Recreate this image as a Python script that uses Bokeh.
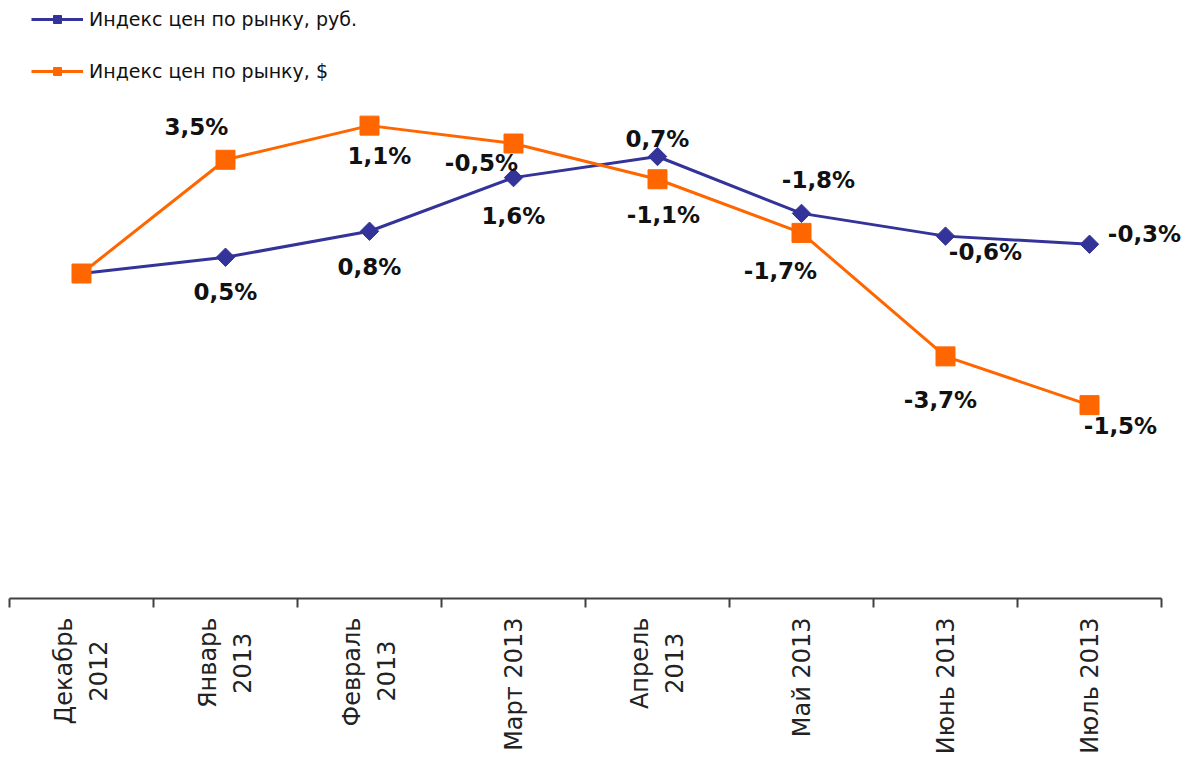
from math import pi
from bokeh.plotting import figure
from bokeh.models import FixedTicker, Legend, LegendItem, ColumnDataSource
from bokeh.core.properties import value
from bokeh.embed import file_html
from bokeh.resources import INLINE

# ---- data ----
months = ["Декабрь\n2012", "Январь\n2013", "Февраль\n2013", "Март 2013",
          "Апрель\n2013", "Май 2013", "Июнь 2013", "Июль 2013"]
rub_index = [100.0, 100.5, 101.3, 102.95, 103.6, 101.85, 101.15, 100.9]
usd_index = [100.0, 103.5, 104.55, 104.0, 102.9, 101.25, 97.45, 95.95]
rub_labels = ["", "0,5%", "0,8%", "1,6%", "0,7%", "-1,8%", "-0,6%", "-0,3%"]
usd_labels = ["", "3,5%", "1,1%", "-0,5%", "-1,1%", "-1,7%", "-3,7%", "-1,5%"]
rub_name = "Индекс цен по рынку, руб."
usd_name = "Индекс цен по рынку, $"

# ---- label placement (screen px offsets) ----
rub_dx = [0, 0, 0, 0, 0, 17, 40, 55]
rub_dy = [0, 35, 36, 38, -18, -33, 16, -10]
usd_dx = [0, -29, 10, -32, 6, -21, -5, 31]
usd_dy = [0, -33, 30, 19, 36, 38, 44, 21]

BLUE = "#333399"
ORANGE = "#FF6600"
FONT = "DejaVu Sans"
NBSP = "\u00a0"


def centred(label):
    """Visually centre the lines of a right-justified rotated tick label."""
    lines = label.split("\n")
    if len(lines) == 1:
        return label
    longest = max(len(s) for s in lines)
    out = []
    for s in lines:
        pad = round((longest - len(s)) * 0.62 / 2 / 0.318)
        out.append(s + NBSP * pad)
    return "\n".join(out)


n = len(months)
xs = [i + 0.5 for i in range(n)]

p = figure(width=1181, height=758, x_range=(0, n), y_range=(90.0, 108.4),
           output_backend="svg", toolbar_location=None,
           min_border_left=9, min_border_right=20, min_border_top=0,
           min_border_bottom=160)
p.outline_line_color = None
p.xgrid.visible = False
p.ygrid.visible = False
p.yaxis.visible = False

ax = p.xaxis[0]
ax.ticker = FixedTicker(ticks=xs, minor_ticks=list(range(n + 1)))
ax.major_label_overrides = {x: centred(m) for x, m in zip(xs, months)}
ax.major_tick_line_color = None
ax.major_tick_out = 0
ax.major_tick_in = 0
ax.minor_tick_line_color = "#404040"
ax.minor_tick_line_width = 2
ax.minor_tick_out = 9
ax.minor_tick_in = 0
ax.axis_line_color = "#404040"
ax.axis_line_width = 2
ax.major_label_orientation = pi / 2
ax.major_label_standoff = 10
ax.major_label_text_font = FONT
ax.major_label_text_font_size = "24px"
ax.major_label_text_color = "#222222"
ax.major_label_text_line_height = 1.25

r1 = p.line(xs, rub_index, color=BLUE, line_width=3)
s1 = p.scatter(xs, rub_index, marker="square", angle=pi / 4, size=13, color=BLUE)
r2 = p.line(xs, usd_index, color=ORANGE, line_width=3)
s2 = p.scatter(xs, usd_index, marker="square", size=19, color=ORANGE)

src = ColumnDataSource(dict(
    x=xs + xs, y=rub_index + usd_index, t=rub_labels + usd_labels,
    dx=rub_dx + usd_dx, dy=rub_dy + usd_dy))
p.text(x="x", y="y", text="t", x_offset="dx", y_offset="dy", source=src,
       text_font=value(FONT), text_font_style="bold", text_font_size="23px",
       text_color="#111111", text_align="center", text_baseline="middle",
       level="overlay")

legend = Legend(items=[LegendItem(label=rub_name, renderers=[r1, s1]),
                       LegendItem(label=usd_name, renderers=[r2, s2])],
                location=(22, 516), orientation="vertical",
                label_text_font=FONT, label_text_font_size="19px",
                label_text_color="#111111",
                glyph_width=52, glyph_height=20, label_height=20,
                spacing=30, padding=0, margin=0, label_standoff=6,
                border_line_color=None, background_fill_alpha=0)
p.add_layout(legend)

open("out.html", "w").write(file_html(p, INLINE))
